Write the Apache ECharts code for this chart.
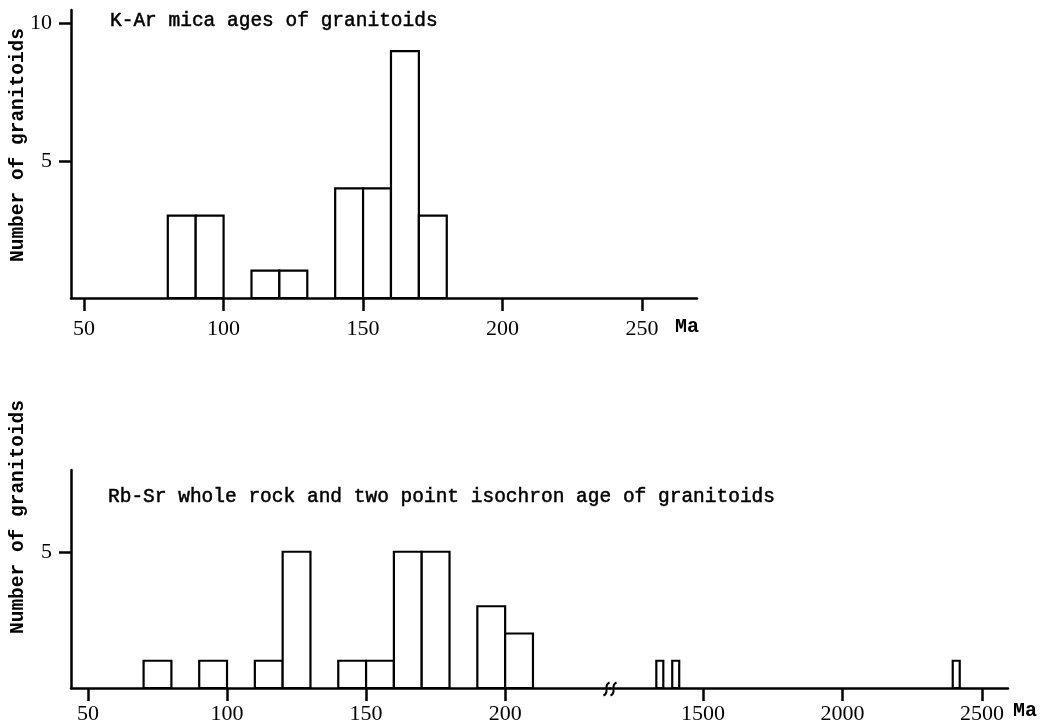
<!DOCTYPE html>
<html>
<head>
<meta charset="utf-8">
<script src="https://cdn.jsdelivr.net/npm/echarts@6/dist/echarts.min.js"></script>
<style>
    body { margin: 0; background: #fff; }
    #chart { width: 1041px; height: 727px; }
</style>
</head>
<body>
<div id="chart"></div>
<script>
// K-Ar mica ages, 10 Ma bins
const kArBinStart = [80, 90, 110, 120, 140, 150, 160, 170];
const kArCount = [3, 3, 1, 1, 4, 4, 9, 3];
// Rb-Sr ages, young part (10 Ma bins)
const rbSrBinStart = [70, 90, 110, 120, 140, 150, 160, 170, 190, 200];
const rbSrCount = [1, 1, 1, 5, 1, 1, 5, 5, 3, 2];
// Rb-Sr ages, old part (beyond the axis break)
const rbSrOldStart = [1333, 1390, 2395];
const rbSrOldCount = [1, 1, 1];
const binWidth = 10;
const oldBinWidth = 25;

// tick labels
const kArXTicks = [50, 100, 150, 200, 250];
const kArYTicks = [5, 10];
const rbSrXTicks = [50, 100, 150, 200];
const rbSrOldXTicks = [1500, 2000, 2500];
const rbSrYTicks = [5];

const ink = '#000';
const monoFont = '"Liberation Mono", "DejaVu Sans Mono", monospace';
const serifFont = '"Liberation Serif", "DejaVu Serif", serif';

function bins(starts, counts, w) {
    return starts.map((s, i) => [s, s + w, counts[i]]);
}

function renderBar(params, api) {
    const p0 = api.coord([api.value(0), api.value(2)]);
    const p1 = api.coord([api.value(1), 0]);
    return {
        type: 'rect',
        shape: { x: p0[0], y: p0[1], width: p1[0] - p0[0], height: p1[1] - p0[1] },
        style: { fill: '#fff', stroke: ink, lineWidth: 2.2 }
    };
}

function xAxisOpt(grid, min, max, ticks, name, nameGap, namePadTop, labelMargin) {
    return {
        type: 'value',
        gridIndex: grid,
        min: min,
        max: max,
        splitLine: { show: false },
        axisLine: { onZero: false, lineStyle: { color: ink, width: 2.5 } },
        axisTick: { length: 13, customValues: ticks, lineStyle: { color: ink, width: 2.5 } },
        axisLabel: {
            customValues: ticks,
            margin: labelMargin,
            color: ink,
            fontFamily: serifFont,
            fontSize: 22,
            formatter: function (val) {
                return String(val);
            }
        },
        name: name,
        nameLocation: 'end',
        nameGap: nameGap,
        nameMoveOverlap: false,
        nameTextStyle: {
            color: ink,
            fontFamily: monoFont,
            fontWeight: 'bold',
            fontSize: 20,
            lineHeight: 20,
            align: 'left',
            verticalAlign: 'top',
            padding: [namePadTop, 0, 0, 0]
        }
    };
}

function yAxisOpt(grid, max, ticks, show, namePadLeft) {
    return {
        type: 'value',
        gridIndex: grid,
        min: 0,
        max: max,
        show: show,
        splitLine: { show: false },
        axisLine: { show: true, lineStyle: { color: ink, width: 2.5 } },
        axisTick: { length: 12, customValues: ticks, lineStyle: { color: ink, width: 2.5 } },
        axisLabel: {
            customValues: ticks,
            margin: 19,
            color: ink,
            fontFamily: serifFont,
            fontSize: 22
        },
        name: show ? 'Number of granitoids' : '',
        nameLocation: 'middle',
        nameGap: 43,
        nameMoveOverlap: false,
        nameTextStyle: {
            color: ink,
            fontFamily: monoFont,
            fontWeight: 'bold',
            fontSize: 19.5,
            padding: [0, 0, 0, namePadLeft]
        }
    };
}

const titleStyle = {
    color: ink,
    fontFamily: monoFont,
    fontWeight: 'normal',
    fontSize: 19.5,
    textBorderColor: ink,
    textBorderWidth: 0.5
};

let myChart = echarts.init(document.getElementById('chart'));

var option = {
    backgroundColor: '#fff',
    animation: false,
    title: [
        {
            text: 'K-Ar mica ages of granitoids',
            left: 110,
            top: 11,
            padding: 0,
            textStyle: titleStyle
        },
        {
            text: 'Rb-Sr whole rock and two point isochron age of granitoids',
            left: 108,
            top: 487,
            padding: 0,
            textStyle: titleStyle
        }
    ],
    grid: [
        { left: 70, top: 10, width: 627, bottom: 429 },
        { left: 70, top: 470, width: 540, bottom: 39 },
        { left: 610, top: 470, width: 398, bottom: 39 }
    ],
    xAxis: [
        xAxisOpt(0, 45.3, 269.7, kArXTicks, 'Ma', -22, 19, 20),
        xAxisOpt(1, 43.9, 237.7, rbSrXTicks, '', 0, 0, 15),
        xAxisOpt(2, 1167, 2593, rbSrOldXTicks, 'Ma', 5, 13, 15)
    ],
    yAxis: [
        yAxisOpt(0, 10.5, kArYTicks, true, 18),
        yAxisOpt(1, 8, rbSrYTicks, true, 124),
        yAxisOpt(2, 8, [], false, 0)
    ],
    series: [
        {
            type: 'custom',
            xAxisIndex: 0, yAxisIndex: 0,
            renderItem: renderBar,
            encode: { x: [0, 1], y: 2 },
            data: bins(kArBinStart, kArCount, binWidth)
        },
        {
            type: 'custom',
            xAxisIndex: 1, yAxisIndex: 1,
            renderItem: renderBar,
            encode: { x: [0, 1], y: 2 },
            data: bins(rbSrBinStart, rbSrCount, binWidth)
        },
        {
            type: 'custom',
            xAxisIndex: 2, yAxisIndex: 2,
            renderItem: renderBar,
            encode: { x: [0, 1], y: 2 },
            data: bins(rbSrOldStart, rbSrOldCount, oldBinWidth)
        }
    ],
    graphic: [
        // axis break mark
        {
            type: 'group',
            left: 601,
            top: 680,
            children: [
                { type: 'rect', shape: { x: 1, y: 5, width: 12, height: 4 }, style: { fill: '#fff' } },
                {
                    type: 'bezierCurve',
                    shape: { x1: 0, y1: 13, x2: 6, y2: 0, cpx1: 7, cpy1: 10, cpx2: -1, cpy2: 3 },
                    style: { stroke: ink, lineWidth: 2, fill: null }
                },
                {
                    type: 'bezierCurve',
                    shape: { x1: 7, y1: 13, x2: 13, y2: 0, cpx1: 14, cpy1: 10, cpx2: 6, cpy2: 3 },
                    style: { stroke: ink, lineWidth: 2, fill: null }
                }
            ]
        }
    ]
};

option && myChart.setOption(option);
</script>
</body>
</html>
